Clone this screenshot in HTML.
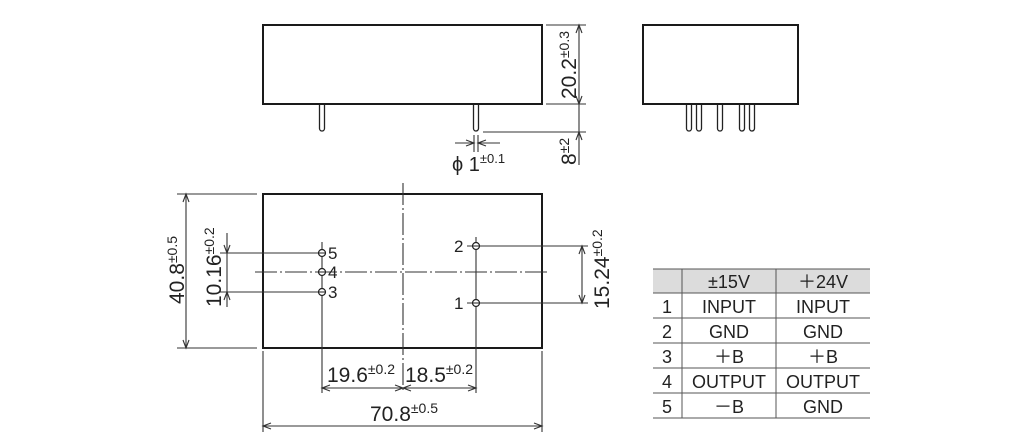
<!DOCTYPE html>
<html><head><meta charset="utf-8"><style>
html,body{margin:0;padding:0;background:#fff;width:1024px;height:444px;overflow:hidden}
svg{display:block}
text{font-family:"Liberation Sans","Noto Sans CJK JP",sans-serif;fill:#222}
</style></head><body>
<svg width="1024" height="444" viewBox="0 0 1024 444" xmlns="http://www.w3.org/2000/svg">
<g fill="none" stroke="#1a1a1a" stroke-width="2">
  <rect x="263" y="25" width="279" height="79"/>
  <rect x="643" y="25" width="155" height="79"/>
  <rect x="263" y="194" width="279" height="154"/>
</g>
<!-- pins -->
<g fill="#fff" stroke="#222" stroke-width="1.3">
  <path d="M319.5,105 V128.5 A2.5,2.5 0 0 0 324.5,128.5 V105"/>
  <path d="M473.5,105 V128.5 A2.5,2.5 0 0 0 478.5,128.5 V105"/>
  <path d="M686.5,105 V128.5 A2.5,2.5 0 0 0 691.5,128.5 V105"/>
  <path d="M696.5,105 V128.5 A2.5,2.5 0 0 0 701.5,128.5 V105"/>
  <path d="M717.5,105 V128.5 A2.5,2.5 0 0 0 722.5,128.5 V105"/>
  <path d="M739.5,105 V128.5 A2.5,2.5 0 0 0 744.5,128.5 V105"/>
  <path d="M749.5,105 V128.5 A2.5,2.5 0 0 0 754.5,128.5 V105"/>
</g>
<g stroke="#333" stroke-width="1.1" fill="none">
  <!-- top view dims -->
  <line x1="546" y1="25" x2="586" y2="25"/>
  <line x1="546" y1="104" x2="586" y2="104"/>
  <line x1="483" y1="132" x2="586" y2="132"/>
  <line x1="579" y1="25" x2="579" y2="165"/>
  <polyline points="576,33 579,25 582,33"/>
  <polyline points="576,96 579,104 582,96"/>
  <polyline points="576,140 579,132 582,140"/>
  <!-- phi -->
  <line x1="474" y1="135" x2="474" y2="152"/>
  <line x1="478" y1="135" x2="478" y2="152"/>
  <line x1="455" y1="143" x2="474" y2="143"/>
  <line x1="478" y1="143" x2="500" y2="143"/>
  <polyline points="466,140 474,143 466,146"/>
  <polyline points="486,140 478,143 486,146"/>
  <!-- center lines -->
  <line x1="255" y1="272" x2="550" y2="272" stroke-dasharray="22 3 2 3"/>
  <line x1="403" y1="183" x2="403" y2="393" stroke-dasharray="22 3 2 3"/>
  <line x1="322" y1="242" x2="322" y2="393"/>
  <line x1="476" y1="237" x2="476" y2="393"/>
  <!-- left pin ext -->
  <line x1="220" y1="253" x2="322" y2="253"/>
  <line x1="220" y1="292" x2="322" y2="292"/>
  <line x1="227" y1="233" x2="227" y2="307"/>
  <polyline points="224,245 227,253 230,245"/>
  <polyline points="224,300 227,292 230,300"/>
  <!-- 40.8 -->
  <line x1="177" y1="194" x2="257" y2="194"/>
  <line x1="177" y1="348" x2="257" y2="348"/>
  <line x1="186" y1="194" x2="186" y2="348"/>
  <polyline points="183,202 186,194 189,202"/>
  <polyline points="183,340 186,348 189,340"/>
  <!-- right pins ext -->
  <line x1="467" y1="246" x2="588" y2="246"/>
  <line x1="467" y1="303" x2="588" y2="303"/>
  <line x1="582" y1="246" x2="582" y2="303"/>
  <polyline points="579,254 582,246 585,254"/>
  <polyline points="579,295 582,303 585,295"/>
  <!-- bottom dims -->
  <line x1="263" y1="351" x2="263" y2="432"/>
  <line x1="542" y1="351" x2="542" y2="432"/>
  <line x1="322" y1="388" x2="476" y2="388"/>
  <polyline points="330,385 322,388 330,391"/>
  <polyline points="395,385 403,388 395,391"/>
  <polyline points="411,385 403,388 411,391"/>
  <polyline points="468,385 476,388 468,391"/>
  <line x1="263" y1="426" x2="542" y2="426"/>
  <polyline points="271,423 263,426 271,429"/>
  <polyline points="534,423 542,426 534,429"/>
</g>
<!-- hole circles -->
<g fill="#fff" stroke="#222" stroke-width="1.2">
  <circle cx="322" cy="253" r="3.5"/>
  <circle cx="322" cy="272" r="3.5"/>
  <circle cx="322" cy="292" r="3.5"/>
  <circle cx="476" cy="246" r="3.5"/>
  <circle cx="476" cy="303" r="3.5"/>
</g>
<g stroke="#222" stroke-width="1">
  <line x1="318.5" y1="253" x2="325.5" y2="253"/>
  <line x1="318.5" y1="272" x2="325.5" y2="272"/>
  <line x1="318.5" y1="292" x2="325.5" y2="292"/>
  <line x1="472.5" y1="246" x2="479.5" y2="246"/>
  <line x1="472.5" y1="303" x2="479.5" y2="303"/>
</g>
<!-- labels -->
<g font-size="17">
  <text x="328" y="259">5</text>
  <text x="328" y="278">4</text>
  <text x="328" y="298">3</text>
  <text x="454" y="252">2</text>
  <text x="454" y="309">1</text>
</g>
<g font-size="21">
  <text transform="translate(576,99) rotate(-90)">20.2<tspan dy="-7" font-size="14">±0.3</tspan></text>
  <text transform="translate(576,165) rotate(-90)">8<tspan dy="-7" font-size="14">±2</tspan></text>
  <text x="452" y="171" font-size="20">ϕ 1<tspan dy="-8" font-size="13">±0.1</tspan></text>
  <text transform="translate(221,307) rotate(-90)">10.16<tspan dy="-7" font-size="14">±0.2</tspan></text>
  <text transform="translate(184,304) rotate(-90)">40.8<tspan dy="-7" font-size="14">±0.5</tspan></text>
  <text transform="translate(609,309) rotate(-90)">15.24<tspan dy="-7" font-size="14">±0.2</tspan></text>
  <text x="327" y="382">19.6<tspan dy="-8" font-size="14">±0.2</tspan></text>
  <text x="405" y="382">18.5<tspan dy="-8" font-size="14">±0.2</tspan></text>
  <text x="370" y="421">70.8<tspan dy="-8" font-size="14">±0.5</tspan></text>
</g>
<!-- table -->
<rect x="653" y="269" width="217" height="24" fill="#dcdcdc"/>
<g stroke="#555" stroke-width="1">
  <line x1="653" y1="269" x2="870" y2="269"/>
  <line x1="653" y1="293" x2="870" y2="293"/>
  <line x1="653" y1="318" x2="870" y2="318"/>
  <line x1="653" y1="343" x2="870" y2="343"/>
  <line x1="653" y1="368" x2="870" y2="368"/>
  <line x1="653" y1="393" x2="870" y2="393"/>
  <line x1="653" y1="418" x2="870" y2="418"/>
  <line x1="682" y1="269" x2="682" y2="418"/>
  <line x1="776" y1="269" x2="776" y2="418"/>
</g>
<g font-size="18" text-anchor="middle">
  <text x="729" y="288">±15V</text>
  <text x="823" y="288">＋24V</text>
  <text x="667" y="313">1</text><text x="729" y="313">INPUT</text><text x="823" y="313">INPUT</text>
  <text x="667" y="338">2</text><text x="729" y="338">GND</text><text x="823" y="338">GND</text>
  <text x="667" y="363">3</text><text x="729" y="363">＋B</text><text x="823" y="363">＋B</text>
  <text x="667" y="388">4</text><text x="729" y="388">OUTPUT</text><text x="823" y="388">OUTPUT</text>
  <text x="667" y="413">5</text><text x="729" y="413">－B</text><text x="823" y="413">GND</text>
</g>
</svg>
</body></html>
